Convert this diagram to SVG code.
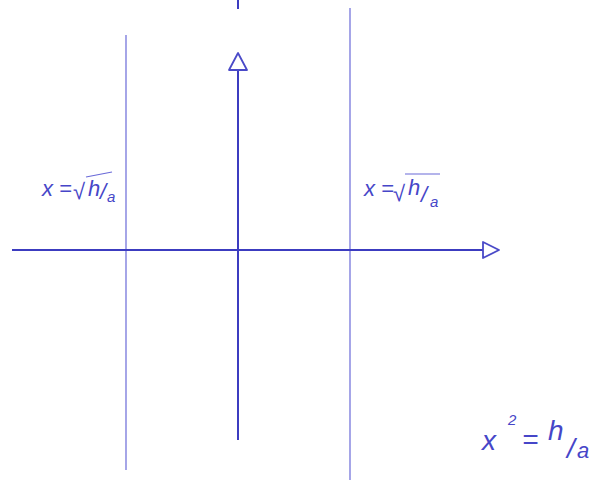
<svg xmlns="http://www.w3.org/2000/svg" width="595" height="483" viewBox="0 0 595 483">
<style>
.thin{stroke:#6a6ad8;stroke-width:1.2;fill:none}
.axis{stroke:#3c3cc0;stroke-width:2;fill:none}
.head{stroke:#4a4ac8;stroke-width:1.8;fill:#ffffff;stroke-linejoin:round}
.lbl{font-family:"Liberation Sans",sans-serif;font-style:italic;fill:#4646c8;font-size:22px}
.sm{font-size:15px}
.big{font-size:28px}
</style>
<rect width="595" height="483" fill="#ffffff"/>
<g id="connectors">
<line class="thin" x1="126" y1="35" x2="126" y2="470"/>
<line class="thin" x1="350" y1="8" x2="350" y2="480"/>
<line class="axis" x1="238" y1="0" x2="238" y2="9"/>
<line class="axis" x1="238" y1="440" x2="238" y2="70"/>
<polygon class="head" points="238,53 229,70 247,70"/>
<line class="axis" x1="12" y1="250" x2="483" y2="250"/>
<polygon class="head" points="499,250 483,242 483,258"/>
</g>
<g id="label-left">
<text class="lbl" x="42" y="196">x =</text>
<text class="lbl" x="73" y="199">√</text>
<line class="thin" x1="86" y1="177" x2="112" y2="172"/>
<text class="lbl" x="88" y="196">h</text>
<text class="lbl" x="100" y="199">/</text>
<text class="lbl sm" x="107" y="202">a</text>
</g>
<g id="label-right">
<text class="lbl" x="364" y="196">x =</text>
<text class="lbl" x="393" y="201">√</text>
<line class="thin" x1="405" y1="174" x2="440" y2="174"/>
<text class="lbl" x="408" y="195">h</text>
<text class="lbl" x="421" y="202">/</text>
<text class="lbl sm" x="430" y="207">a</text>
</g>
<g id="label-eq">
<text class="lbl big" x="482" y="450">x</text>
<text class="lbl sm" x="508" y="425">2</text>
<text class="lbl big" x="522" y="449">=</text>
<text class="lbl big" x="548" y="440">h</text>
<text class="lbl big" x="567" y="458">/</text>
<text class="lbl" x="577" y="458">a</text>
</g>
</svg>
